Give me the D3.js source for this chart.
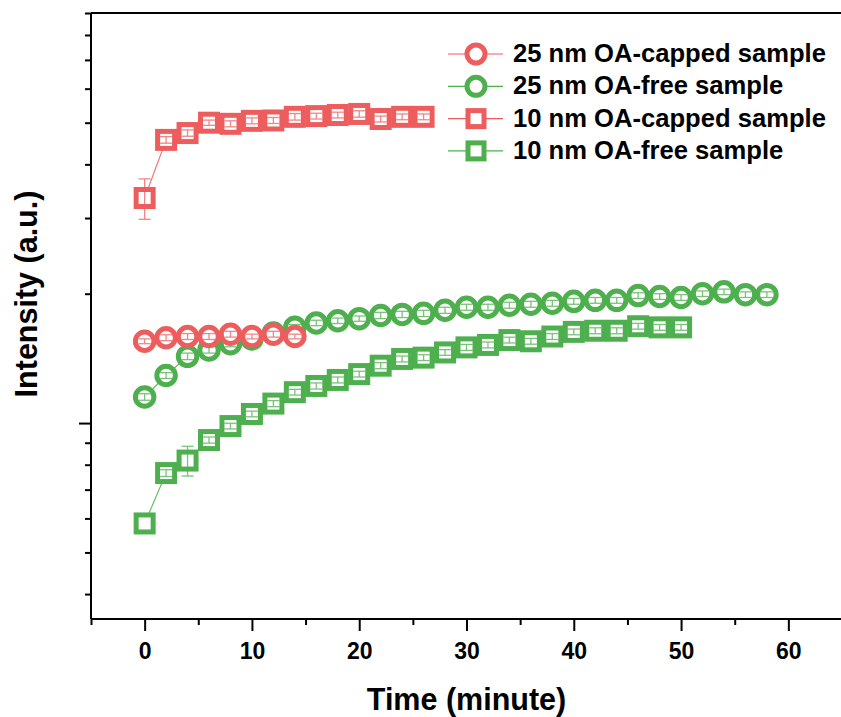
<!DOCTYPE html>
<html>
<head>
<meta charset="utf-8">
<script src="https://cdn.jsdelivr.net/npm/d3@7/dist/d3.min.js"></script>
<style>
  body { margin: 0; background: #fff; }
  svg { display: block; font-family: "Liberation Sans", Arial, sans-serif; font-weight: bold; }
</style>
</head>
<body>
<div id="chart"></div>
<script>
// 25 nm OA-capped (red circles)
const time25cap = [0, 2, 4, 6, 8, 10, 12, 14];
const int25cap  = [15.5, 15.8, 15.9, 15.9, 16.1, 15.9, 16.1, 15.9];
const err25cap  = [0.2, 0.25, 0.25, 0.25, 0.25, 0.2, 0.25, 0.2];

// 25 nm OA-free (green circles)
const time25free = [0, 2, 4, 6, 8, 10, 12, 14, 16, 18, 20, 22, 24, 26, 28, 30, 32, 34, 36, 38, 40, 42, 44, 46, 48, 50, 52, 54, 56, 58];
const int25free  = [11.5, 12.9, 14.3, 14.8, 15.3, 15.7, 16.2, 16.7, 17.1, 17.3, 17.5, 17.8, 17.9, 18.0, 18.3, 18.6, 18.6, 18.8, 18.9, 19.0, 19.2, 19.3, 19.3, 19.8, 19.7, 19.6, 20.0, 20.2, 19.9, 19.9];
const err25free  = [0.2, 0.2, 0.25, 0.25, 0.25, 0.25, 0.25, 0.25, 0.25, 0.25, 0.25, 0.3, 0.3, 0.3, 0.3, 0.3, 0.3, 0.3, 0.3, 0.3, 0.3, 0.3, 0.3, 0.3, 0.3, 0.3, 0.3, 0.3, 0.3, 0.3];

// 10 nm OA-capped (red squares)
const time10cap = [0, 2, 4, 6, 8, 10, 12, 14, 16, 18, 20, 22, 24, 26];
const int10cap  = [33.4, 45.6, 47.3, 50.0, 49.7, 50.5, 50.6, 51.6, 51.8, 52.1, 52.4, 51.0, 51.6, 51.6];
const err10cap  = [3.6, 0.8, 0.8, 0.7, 0.8, 0.8, 0.8, 0.9, 0.8, 0.8, 0.9, 0.8, 0.8, 0.8];

// 10 nm OA-free (green squares)
const time10free = [0, 2, 4, 6, 8, 10, 12, 14, 16, 18, 20, 22, 24, 26, 28, 30, 32, 34, 36, 38, 40, 42, 44, 46, 48, 50];
const int10free  = [5.84, 7.65, 8.18, 9.13, 9.84, 10.5, 11.1, 11.8, 12.2, 12.6, 13.0, 13.6, 14.1, 14.2, 14.6, 15.0, 15.2, 15.6, 15.5, 15.9, 16.3, 16.4, 16.4, 16.8, 16.7, 16.7];
const err10free  = [0.0, 0.14, 0.65, 0.15, 0.15, 0.16, 0.18, 0.18, 0.2, 0.2, 0.2, 0.22, 0.22, 0.22, 0.22, 0.24, 0.24, 0.24, 0.24, 0.25, 0.25, 0.26, 0.26, 0.26, 0.26, 0.26];

const xMajor = [0, 10, 20, 30, 40, 50, 60];
const xMinor = [-5, 5, 15, 25, 35, 45, 55, 65];
const yMajor = [10];
const yMinor = [4, 5, 6, 7, 8, 9, 20, 30, 40, 50, 60, 70, 80, 90];

const RED = "#EE5D5D", GREEN = "#4DAF4D";

const series = [
  { name: "10 nm OA-free sample",   t: time10free, v: int10free, e: err10free, color: GREEN, shape: "square" },
  { name: "10 nm OA-capped sample", t: time10cap,  v: int10cap,  e: err10cap,  color: RED,   shape: "square" },
  { name: "25 nm OA-free sample",   t: time25free, v: int25free, e: err25free, color: GREEN, shape: "circle" },
  { name: "25 nm OA-capped sample", t: time25cap,  v: int25cap,  e: err25cap,  color: RED,   shape: "circle" }
];
const legendOrder = [3, 2, 1, 0];

const W = 841, H = 717;
const L = 91, R = 842, T = 13, B = 619;

const svg = d3.select("#chart").append("svg").attr("width", W).attr("height", H);

const x = d3.scaleLinear().domain([-5, 65]).range([L, R]);
const y = d3.scaleLog().domain([3.5, 90]).range([B, T]);

// frame (top + right)
svg.append("line").attr("x1", L).attr("x2", R).attr("y1", T).attr("y2", T)
  .attr("stroke", "#000").attr("stroke-width", 2);
svg.append("line").attr("x1", R).attr("x2", R).attr("y1", T).attr("y2", B)
  .attr("stroke", "#000").attr("stroke-width", 2);

// x axis
const gx = svg.append("g").attr("transform", `translate(0,${B})`);
gx.call(d3.axisBottom(x).tickValues(xMajor).tickSize(12).tickFormat(d3.format("d")));
gx.append("g").call(d3.axisBottom(x).tickValues(xMinor).tickSize(6).tickFormat(""))
  .select(".domain").remove();
gx.selectAll(".domain").attr("stroke-width", 2).attr("d", `M${L},0H${R}`);
gx.selectAll(".tick line").attr("stroke-width", 2);
gx.selectAll("text").attr("y", 40).attr("dy", null)
  .attr("font-size", 23).attr("font-family", "Liberation Sans, Arial, sans-serif")
  .attr("font-weight", "bold").attr("fill", "#000");

// y axis (log, no labels)
const gy = svg.append("g").attr("transform", `translate(${L},0)`);
gy.call(d3.axisLeft(y).tickValues(yMajor).tickSize(12).tickFormat(""));
gy.append("g").call(d3.axisLeft(y).tickValues(yMinor).tickSize(6).tickFormat(""))
  .select(".domain").remove();
gy.selectAll(".domain").attr("stroke-width", 2).attr("d", `M0,${T}V${B}`);
gy.selectAll(".tick line").attr("stroke-width", 2);

// titles
svg.append("text").attr("x", (L + R) / 2).attr("y", 710).attr("text-anchor", "middle")
  .attr("font-size", 30.5).text("Time (minute)");
svg.append("text").attr("transform", "translate(37,294) rotate(-90)")
  .attr("text-anchor", "middle").attr("font-size", 30.5).text("Intensity (a.u.)");

const plot = svg.append("g");
const line = d3.line().x(d => x(d[0])).y(d => y(d[1]));

function drawMarker(g, shape, color, cx, cy, size) {
  if (shape === "circle") {
    g.append("circle").attr("cx", cx).attr("cy", cy).attr("r", size / 2)
      .attr("fill", "#fff").attr("stroke", color).attr("stroke-width", 5);
  } else {
    g.append("rect").attr("x", cx - size / 2).attr("y", cy - size / 2)
      .attr("width", size).attr("height", size)
      .attr("fill", "#fff").attr("stroke", color).attr("stroke-width", 5);
  }
}

series.forEach(s => {
  const pts = s.t.map((t, i) => [t, s.v[i], s.e[i]]);
  const g = plot.append("g");
  g.append("path").datum(pts).attr("d", line).attr("fill", "none")
    .attr("stroke", s.color).attr("stroke-width", 1.2).attr("opacity", 0.85);
  pts.forEach(p => {
    const cx = x(p[0]), cy = y(p[1]);
    drawMarker(g, s.shape, s.color, cx, cy, s.shape === "circle" ? 18.5 : 17);
    if (p[2] > 0) {
      const y1 = y(p[1] + p[2]), y2 = y(p[1] - p[2]);
      const eb = g.append("g").attr("stroke", s.color).attr("stroke-width", 1.3).attr("opacity", 0.75);
      eb.append("line").attr("x1", cx).attr("x2", cx).attr("y1", y1).attr("y2", y2);
      eb.append("line").attr("x1", cx - 6).attr("x2", cx + 6).attr("y1", y1).attr("y2", y1);
      eb.append("line").attr("x1", cx - 6).attr("x2", cx + 6).attr("y1", y2).attr("y2", y2);
    }
  });
});

// legend
const legend = svg.append("g").attr("transform", "translate(448,54)");
legendOrder.forEach((k, i) => {
  const s = series[k];
  const row = legend.append("g").attr("transform", `translate(0,${i * 32.3})`);
  row.append("line").attr("x1", 0).attr("x2", 55).attr("y1", 0).attr("y2", 0)
    .attr("stroke", s.color).attr("stroke-width", 1.2);
  drawMarker(row, s.shape, s.color, 28, 0, s.shape === "circle" ? 18 : 16);
  row.append("text").attr("x", 65).attr("y", 8).attr("font-size", 25.6).text(s.name);
});
</script>
</body>
</html>
